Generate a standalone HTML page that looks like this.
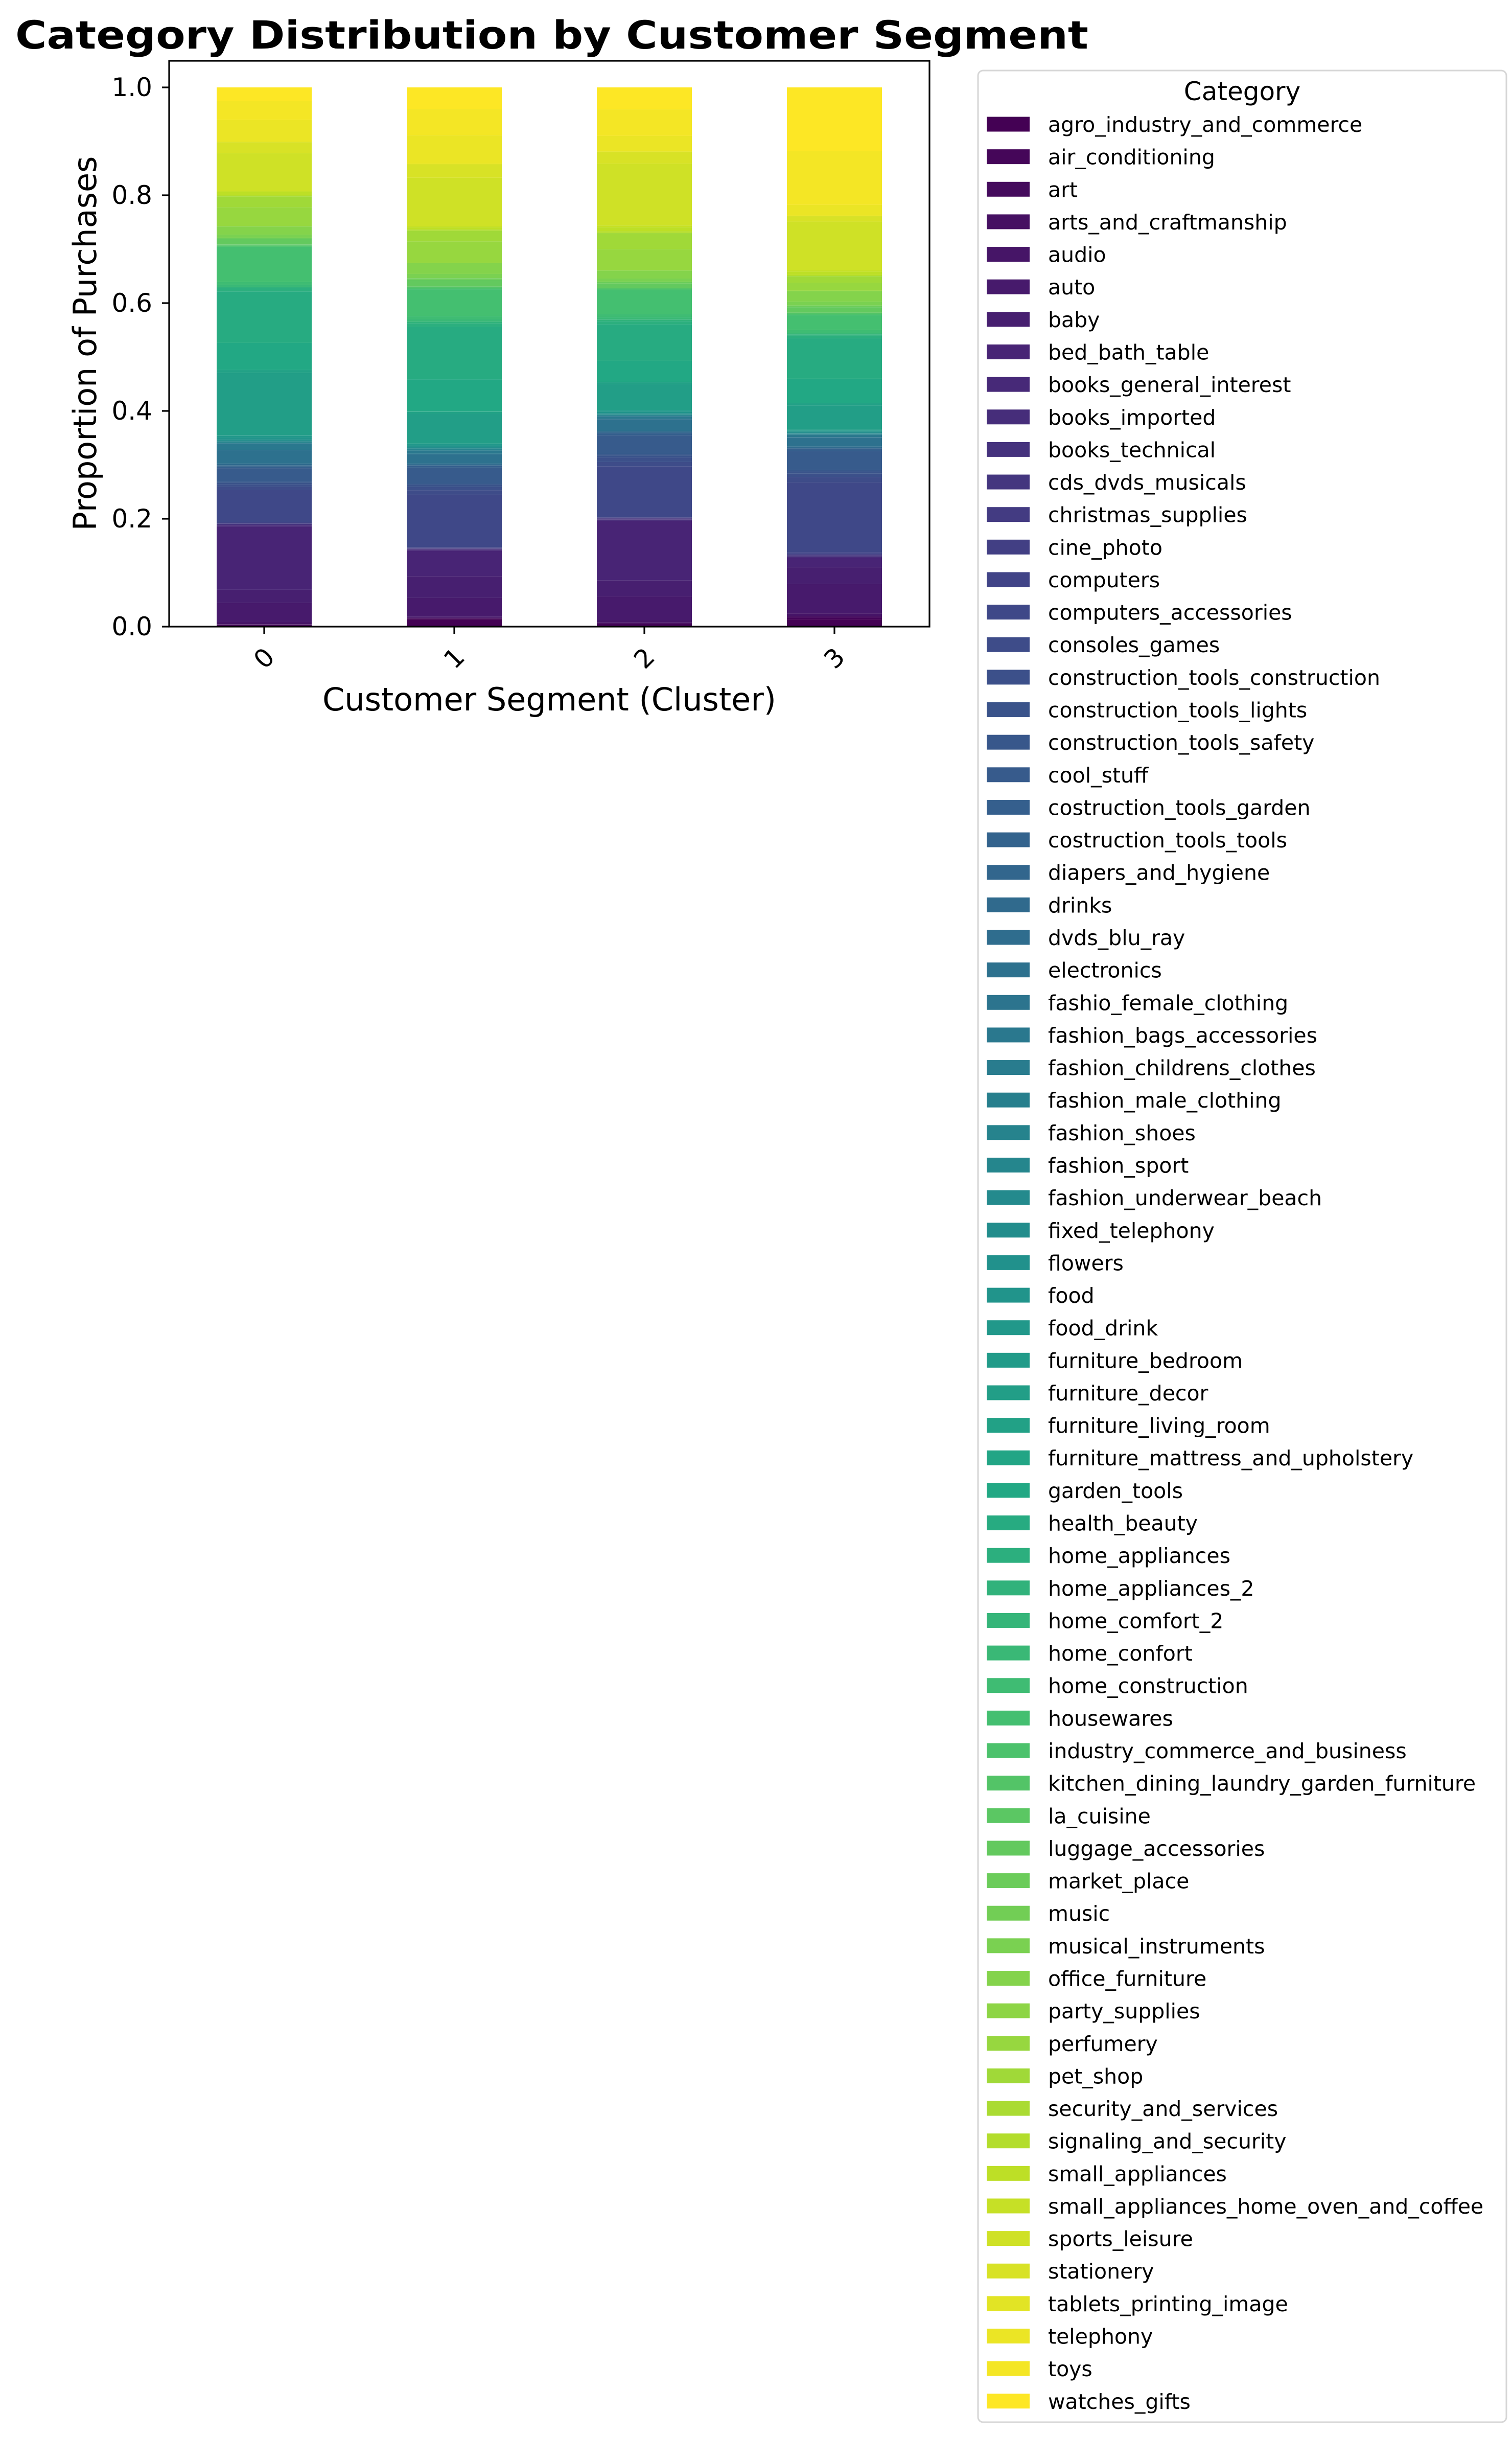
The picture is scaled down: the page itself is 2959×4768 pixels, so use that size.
<!DOCTYPE html>
<html><head><meta charset="utf-8"><style>
html,body{margin:0;padding:0;background:#fff;}
svg{display:block;font-family:"DejaVu Sans","Liberation Sans",sans-serif;}
</style></head><body>
<svg id="chart" width="2959" height="4768" viewBox="0 0 2959 4768" xmlns="http://www.w3.org/2000/svg">
<rect width="2959" height="4768" fill="#fff"/>
<text x="1080" y="95" text-anchor="middle" font-size="76" font-weight="bold" textLength="2100" lengthAdjust="spacingAndGlyphs">Category Distribution by Customer Segment</text>
<g id="bars"></g>
<g id="axes"></g>
<g id="legend"></g>
</svg>
<script>
const categories = ["agro_industry_and_commerce","air_conditioning","art","arts_and_craftmanship","audio","auto","baby","bed_bath_table","books_general_interest","books_imported","books_technical","cds_dvds_musicals","christmas_supplies","cine_photo","computers","computers_accessories","consoles_games","construction_tools_construction","construction_tools_lights","construction_tools_safety","cool_stuff","costruction_tools_garden","costruction_tools_tools","diapers_and_hygiene","drinks","dvds_blu_ray","electronics","fashio_female_clothing","fashion_bags_accessories","fashion_childrens_clothes","fashion_male_clothing","fashion_shoes","fashion_sport","fashion_underwear_beach","fixed_telephony","flowers","food","food_drink","furniture_bedroom","furniture_decor","furniture_living_room","furniture_mattress_and_upholstery","garden_tools","health_beauty","home_appliances","home_appliances_2","home_comfort_2","home_confort","home_construction","housewares","industry_commerce_and_business","kitchen_dining_laundry_garden_furniture","la_cuisine","luggage_accessories","market_place","music","musical_instruments","office_furniture","party_supplies","perfumery","pet_shop","security_and_services","signaling_and_security","small_appliances","small_appliances_home_oven_and_coffee","sports_leisure","stationery","tablets_printing_image","telephony","toys","watches_gifts"];
const clusters = ["0","1","2","3"];
const cluster0 = [0.001,0.002,0.001,0.0005,0.004,0.035,0.0245,0.116,0.003,0.0005,0.002,0.0003,0.001,0.0005,0.002,0.059,0.006,0.004,0.003,0.002,0.025,0.003,0.001,0.001,0.003,0.0003,0.025,0.0005,0.012,0.0003,0.001,0.002,0.0003,0.001,0.002,0.0003,0.004,0.003,0.001,0.115,0.005,0.0005,0.05,0.095,0.006,0.002,0.0003,0.004,0.005,0.065,0.002,0.002,0.0003,0.01,0.002,0.0003,0.006,0.015,0.0003,0.035,0.02,0.0003,0.002,0.006,0.002,0.07,0.02,0.001,0.04,0.035,0.025];
const cluster1 = [0.014,0.001,0.001,0.0003,0.002,0.035,0.04,0.048,0.002,0.0005,0.001,0.0003,0.001,0.0005,0.001,0.098,0.008,0.006,0.004,0.002,0.03,0.003,0.001,0.001,0.002,0.0003,0.018,0.0005,0.006,0.0003,0.001,0.002,0.0003,0.001,0.002,0.0003,0.003,0.002,0.001,0.055,0.004,0.0005,0.06,0.098,0.006,0.003,0.0003,0.004,0.006,0.05,0.002,0.003,0.0003,0.012,0.003,0.0003,0.008,0.02,0.0005,0.04,0.02,0.0003,0.002,0.004,0.002,0.09,0.025,0.001,0.053,0.049,0.04];
const cluster2 = [0.001,0.004,0.002,0.0005,0.004,0.045,0.03,0.112,0.002,0.0005,0.002,0.0003,0.001,0.0005,0.001,0.095,0.008,0.008,0.004,0.003,0.035,0.004,0.001,0.001,0.002,0.0003,0.022,0.0005,0.005,0.0003,0.001,0.001,0.0003,0.001,0.002,0.0003,0.003,0.002,0.001,0.048,0.004,0.0005,0.04,0.068,0.006,0.003,0.0003,0.004,0.006,0.045,0.002,0.002,0.0003,0.008,0.003,0.0003,0.006,0.015,0.0003,0.04,0.03,0.0003,0.003,0.008,0.003,0.116,0.022,0.001,0.029,0.05,0.041];
const cluster3 = [0.014,0.003,0.002,0.0005,0.005,0.055,0.03,0.018,0.002,0.0005,0.002,0.0003,0.002,0.0005,0.003,0.13,0.01,0.006,0.004,0.003,0.035,0.004,0.001,0.001,0.002,0.0003,0.017,0.0005,0.004,0.0003,0.001,0.001,0.0003,0.001,0.002,0.0003,0.002,0.001,0.001,0.045,0.004,0.0005,0.045,0.075,0.005,0.002,0.0003,0.003,0.005,0.028,0.002,0.002,0.0003,0.01,0.003,0.0003,0.007,0.02,0.0003,0.015,0.012,0.0003,0.002,0.006,0.003,0.09,0.01,0.001,0.02,0.1,0.118];
const seriesValues = [cluster0, cluster1, cluster2, cluster3];
const yTicks = [0.0,0.2,0.4,0.6,0.8,1.0];
const yTickLabels = ["0.0","0.2","0.4","0.6","0.8","1.0"];

const NS = "http://www.w3.org/2000/svg";
const AX = {left:331,right:1819,top:119,bottom:1226};
const yScale = v => 1226 - v*1055;
const step = (AX.right-AX.left)/clusters.length;
const xScale = i => AX.left + step*(i+0.5);
const barW = step*0.5;
const stops = ["#440154","#482475","#414487","#355f8d","#2a788e","#21918c","#22a884","#44bf70","#7ad151","#bddf26","#fde725"];
function hex(c){return [1,3,5].map(k=>parseInt(c.substr(k,2),16));}
function viridis(t){const p=t*10,i=Math.min(9,Math.floor(p)),f=p-i;const a=hex(stops[i]),b=hex(stops[i+1]);return "rgb("+a.map((v,k)=>Math.round(v+(b[k]-v)*f)).join(",")+")";}
function mk(tag,attrs,parent){const e=document.createElementNS(NS,tag);for(const k in attrs)e.setAttribute(k,attrs[k]);parent.appendChild(e);return e;}
const colorOf = j => viridis(j/(categories.length-1));

const gb=document.getElementById("bars");
seriesValues.forEach((vals,i)=>{
  const tot=vals.reduce((a,b)=>a+b,0);
  let cum=0;
  vals.forEach((v,j)=>{
    const p=v/tot;
    const y1=yScale(cum), y2=yScale(cum+p);
    cum+=p;
    const r=mk("rect",{x:xScale(i)-barW/2,y:y2,width:barW,height:Math.max(0,y1-y2),fill:colorOf(j)},gb);
    
    
  });
});

const ga=document.getElementById("axes");
const frame=mk("rect",{x:AX.left,y:AX.top,width:AX.right-AX.left,height:AX.bottom-AX.top,fill:"none",stroke:"#000","stroke-width":3.2},ga);


yTicks.forEach((v,k)=>{
  const y=yScale(v);
  const t=mk("line",{x1:AX.left-14,x2:AX.left,y1:y,y2:y,stroke:"#000","stroke-width":3.2},ga);
  
  
  const l=mk("text",{x:AX.left-33,y:y+17,"text-anchor":"end","font-size":50},ga);
  l.textContent=yTickLabels[k];
  
  
});
clusters.forEach((c,i)=>{
  const x=xScale(i);
  const t=mk("line",{x1:x,x2:x,y1:AX.bottom,y2:AX.bottom+14,stroke:"#000","stroke-width":3.2},ga);
  
  
  const l=mk("text",{x:x,y:1288,"text-anchor":"middle","dominant-baseline":"central","font-size":50,transform:"rotate(-45 "+x+" 1288)"},ga);
  l.textContent=c;
  
  
});
const xl=mk("text",{x:1075,y:1390,"text-anchor":"middle","font-size":62},ga);
xl.textContent="Customer Segment (Cluster)";


const yl=mk("text",{x:0,y:0,"text-anchor":"middle","font-size":62,transform:"translate(188 672) rotate(-90)"},ga);
yl.textContent="Proportion of Purchases";



const gl=document.getElementById("legend");
const box=mk("rect",{x:1914,y:138,width:1034,height:4601,rx:10,fill:"#fff",stroke:"#d6d6d6","stroke-width":3},gl);


const lt=mk("text",{x:2431,y:196,"text-anchor":"middle","font-size":50},gl);
lt.textContent="Category";


categories.forEach((c,j)=>{
  const cy=243+j*63.64;
  const g=mk("g",{},gl);
  
  
  const sw=mk("rect",{x:1931,y:cy-14.5,width:84,height:29,fill:colorOf(j)},g);
  
  
  const tx=mk("text",{x:2051,y:cy+15,"font-size":41},g);
  tx.textContent=c;
  
  
});
</script>
</body></html>
